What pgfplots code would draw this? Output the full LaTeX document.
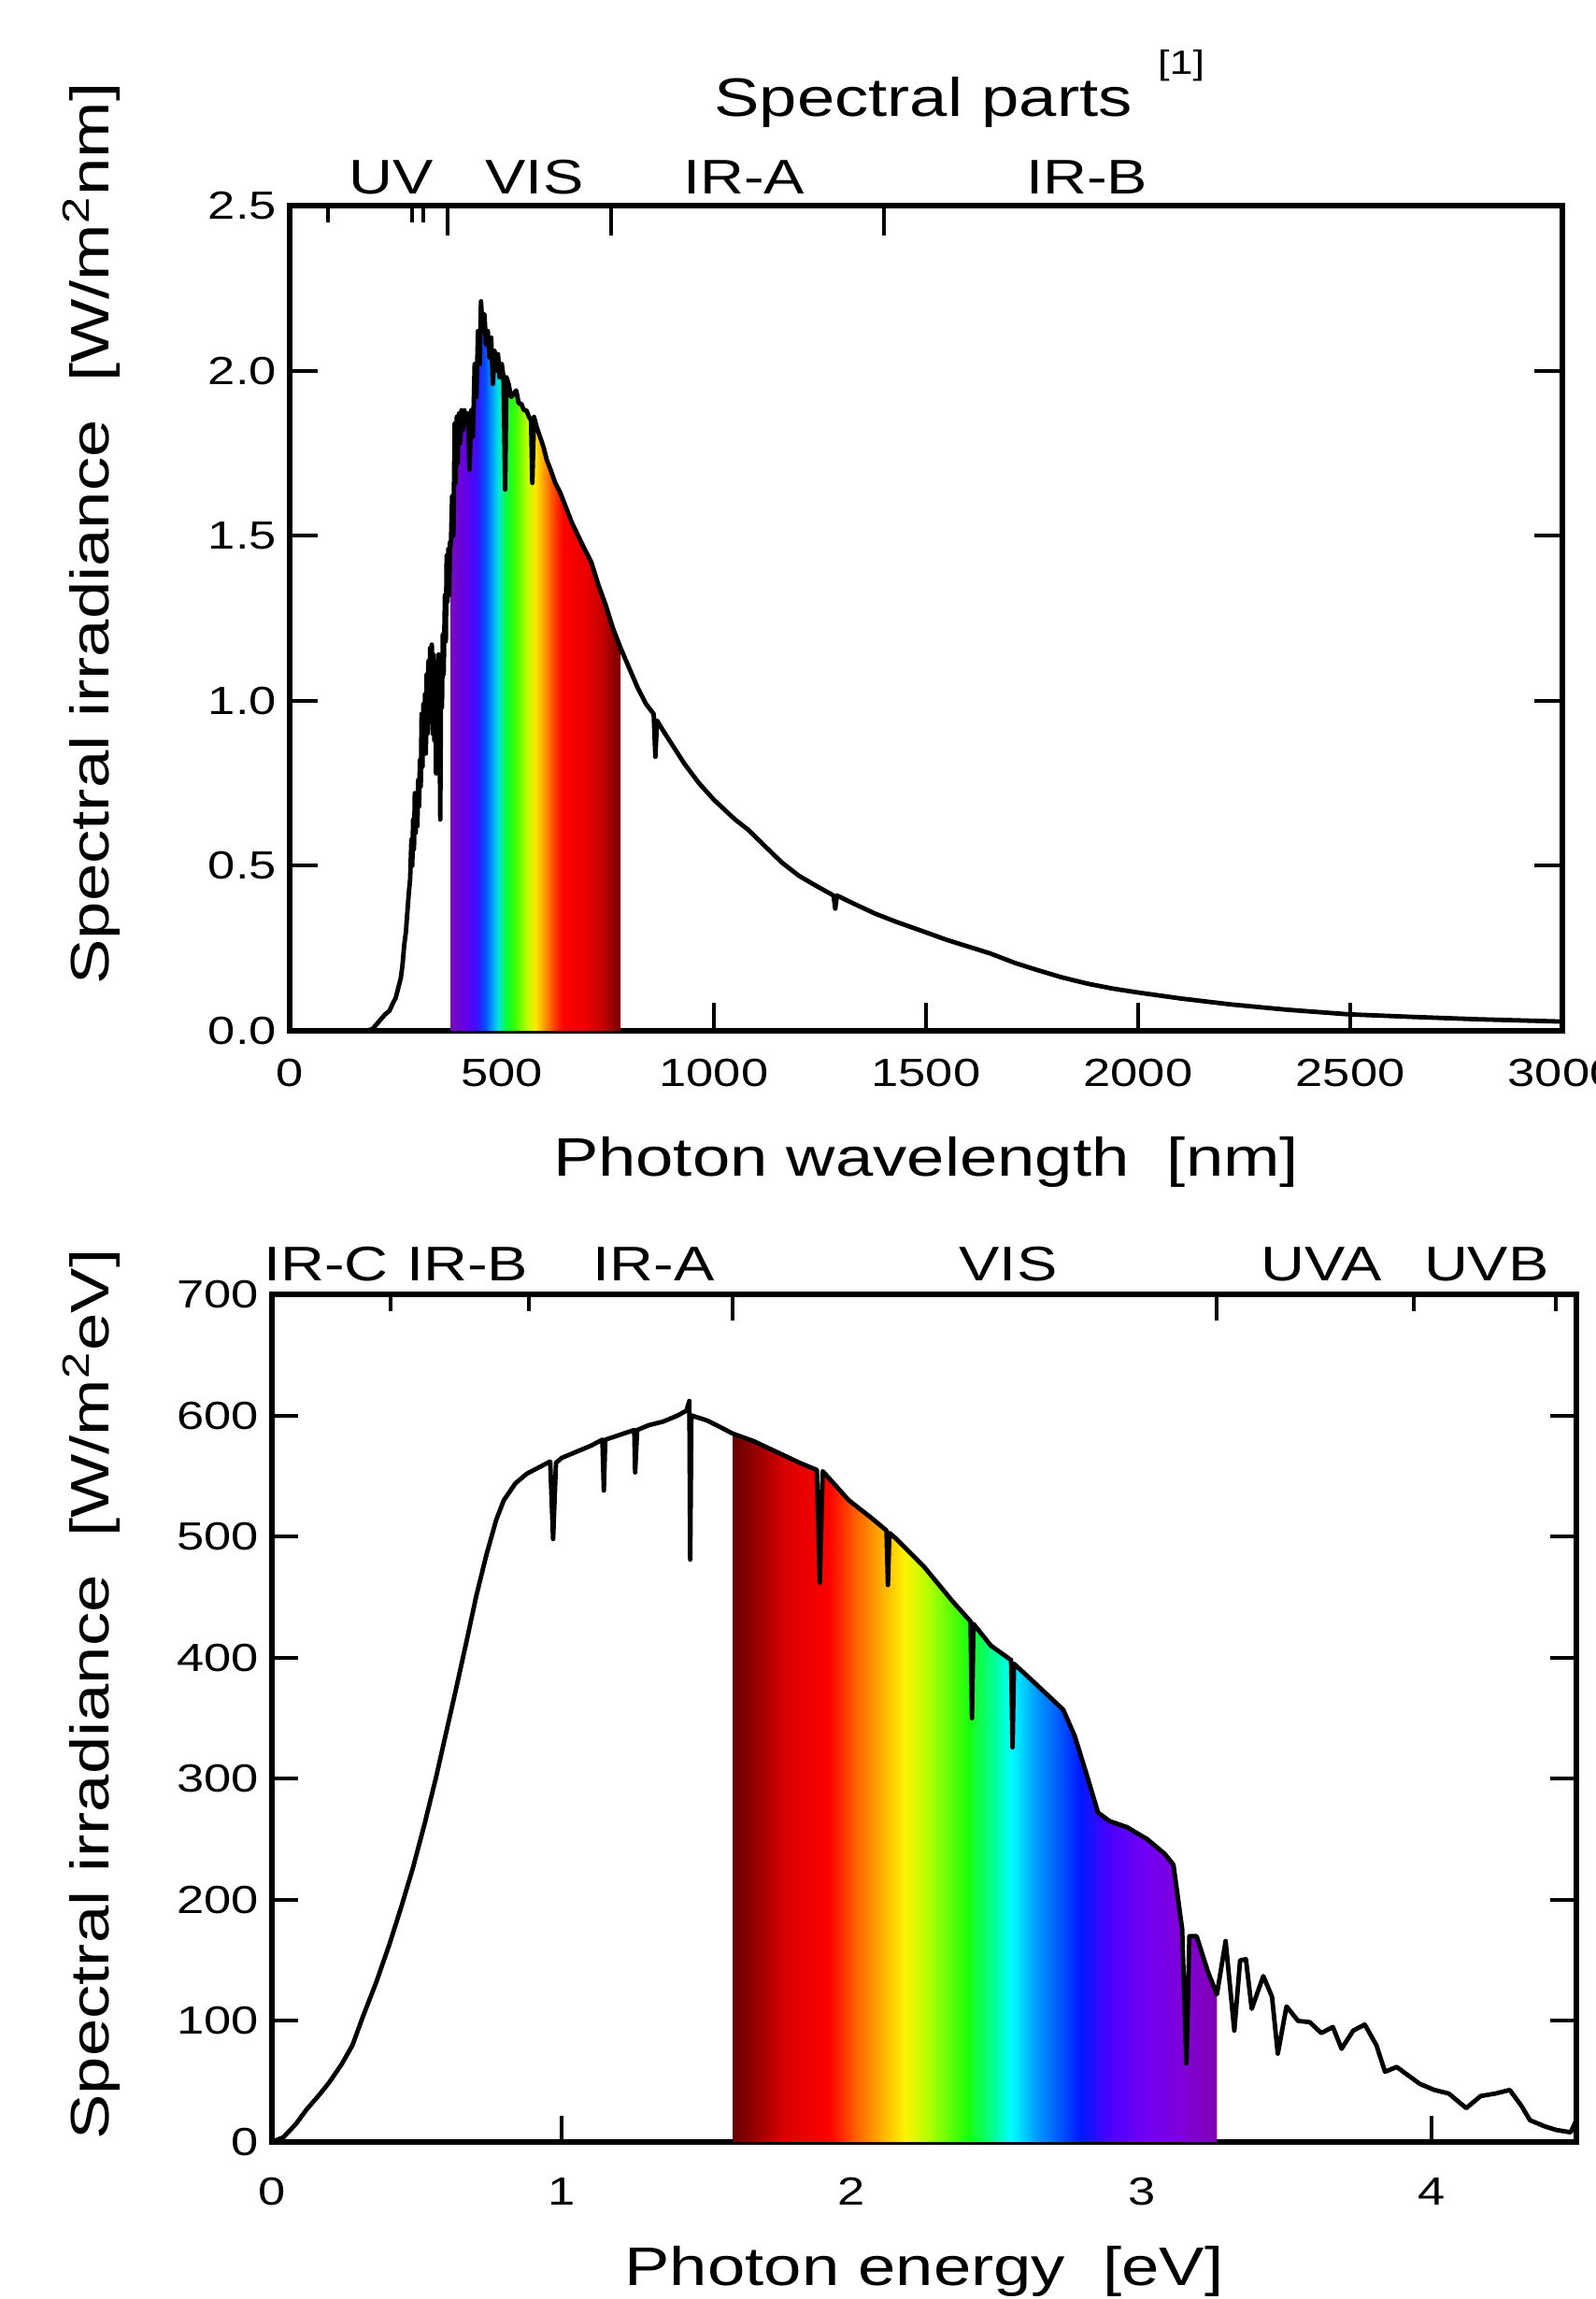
\documentclass[border=0pt]{standalone}
\usepackage{fontspec}
\setmainfont{Liberation Sans}[FakeStretch=1.25]
\usepackage{pgfplots}
\usepackage{pgfplotstable}
\pgfplotsset{compat=1.18}

\newcommand\ticksize{\fontsize{10.5}{12}\selectfont}
\newcommand\labsize{\fontsize{14.5}{17}\selectfont}
\newcommand\partsize{\fontsize{13}{15}\selectfont}

% rainbow for 380..780 nm (violet left, red right)
\pgfdeclarehorizontalshading{rainbownm}{100bp}{%
rgb(0bp)=(0.45,0.05,0.75); rgb(25bp)=(0.45,0.05,0.75);
rgb(29bp)=(0.40,0.00,0.90); rgb(32.5bp)=(0.25,0.05,1.00);
rgb(35bp)=(0.00,0.30,1.00); rgb(37bp)=(0.00,0.60,1.00);
rgb(39bp)=(0.00,0.90,0.85); rgb(41.5bp)=(0.05,1.00,0.20);
rgb(44bp)=(0.25,1.00,0.00); rgb(47.5bp)=(0.75,1.00,0.00);
rgb(50bp)=(1.00,0.90,0.00); rgb(52.5bp)=(1.00,0.60,0.00);
rgb(55.5bp)=(1.00,0.25,0.00); rgb(58bp)=(1.00,0.00,0.00);
rgb(65bp)=(0.92,0.00,0.00); rgb(70bp)=(0.75,0.00,0.00);
rgb(75bp)=(0.45,0.00,0.00); rgb(100bp)=(0.45,0.00,0.00)}

% rainbow for 1.59..3.26 eV (red left, violet right)
\pgfdeclarehorizontalshading{rainbowev}{100bp}{%
rgb(0bp)=(0.40,0.00,0.00); rgb(25bp)=(0.40,0.00,0.00);
rgb(30.4bp)=(0.85,0.00,0.00); rgb(34.9bp)=(1.00,0.00,0.00);
rgb(37.9bp)=(1.00,0.40,0.00); rgb(40.5bp)=(1.00,0.70,0.00);
rgb(42.7bp)=(1.00,0.95,0.00); rgb(44.8bp)=(0.75,1.00,0.00);
rgb(49.3bp)=(0.10,1.00,0.05); rgb(52bp)=(0.00,1.00,0.60);
rgb(53.7bp)=(0.00,1.00,1.00); rgb(56.4bp)=(0.00,0.60,1.00);
rgb(60.9bp)=(0.00,0.10,1.00); rgb(63.9bp)=(0.30,0.00,1.00);
rgb(67.8bp)=(0.45,0.00,0.95); rgb(71.4bp)=(0.50,0.00,0.85);
rgb(75bp)=(0.50,0.00,0.70); rgb(100bp)=(0.50,0.00,0.70)}

% spectral irradiance vs wavelength (nm, W/m^2nm)
\pgfplotstableread{
x y
0 0
180 0
195 0.005
205 0.02
215 0.035
225 0.05
235 0.06
242 0.08
250 0.10
256 0.13
262 0.16
266 0.20
270 0.26
274 0.30
278 0.37
281 0.42
284 0.46
287 0.58
289 0.50
291 0.64
293 0.55
295 0.72
297 0.60
299 0.70
301 0.62
303 0.76
305 0.68
307 0.82
309 0.74
311 0.96
313 0.80
315 0.99
317 0.86
319 1.02
321 0.84
323 1.08
325 0.90
327 1.12
329 0.95
331 1.16
333 0.98
335 1.17
337 0.90
339 1.14
341 0.88
343 1.12
345 0.78
347 1.10
349 0.95
351 1.14
353 1.00
355 0.64
357 1.10
359 0.98
361 1.20
363 1.08
366 1.32
368 1.18
370 1.44
372 1.30
374 1.46
376 1.32
378 1.48
380 1.47
383 1.62
386 1.50
389 1.84
391 1.66
394 1.86
396 1.72
399 1.87
402 1.78
405 1.88
408 1.82
412 1.88
416 1.84
420 1.87
424 1.70
428 1.88
432 1.80
436 2.02
440 1.92
444 2.12
448 2.02
451 2.21
455 2.12
459 2.17
463 2.08
467 2.12
471 2.04
475 2.10
479 1.96
483 2.06
487 2.00
491 2.05
495 1.98
500 2.02
504 1.98
508 1.64
511 1.98
516 1.96
522 1.92
528 1.93
534 1.94
540 1.90
546 1.90
552 1.88
558 1.88
564 1.86
569 1.85
572 1.66
576 1.86
582 1.83
590 1.80
598 1.77
606 1.73
615 1.70
626 1.66
638 1.63
650 1.59
665 1.54
680 1.50
695 1.46
711 1.42
728 1.35
745 1.29
762 1.22
780 1.16
800 1.10
820 1.04
840 0.99
858 0.96
862 0.83
866 0.94
880 0.91
900 0.87
930 0.81
965 0.75
1000 0.70
1050 0.64
1080 0.61
1120 0.56
1160 0.51
1200 0.47
1240 0.44
1282 0.41
1286 0.37
1290 0.41
1330 0.385
1380 0.355
1430 0.33
1496 0.30
1550 0.275
1600 0.255
1650 0.235
1711 0.205
1760 0.185
1820 0.162
1880 0.143
1940 0.128
2000 0.116
2100 0.098
2218 0.080
2350 0.064
2496 0.050
2650 0.042
2800 0.035
3000 0.028
}\nmdata

% spectral irradiance vs photon energy (eV, W/m^2eV)
\pgfplotstableread{
x y
0 0
0.04 4
0.083 15
0.12 27
0.16 38
0.197 49
0.24 64
0.278 80
0.313 103
0.36 132
0.405 163
0.446 194
0.486 226
0.527 263
0.567 302
0.60 337
0.635 374
0.67 412
0.705 451
0.74 485
0.774 514
0.80 530
0.84 544
0.88 552
0.92 557
0.96 562
0.97 498
0.98 561
1.00 565
1.05 570
1.10 575
1.14 580
1.145 538
1.15 580
1.20 584
1.25 588
1.253 553
1.26 588
1.30 592
1.35 595
1.40 600
1.43 604
1.44 612
1.443 481
1.447 600
1.50 596
1.55 590
1.59 585
1.66 579
1.74 570
1.82 561
1.88 555
1.89 462
1.90 554
1.99 530
2.07 515
2.12 505
2.125 460
2.13 503
2.15 499
2.25 475
2.35 446
2.41 430
2.415 350
2.42 428
2.48 410
2.55 398
2.555 326
2.56 395
2.65 375
2.73 357
2.77 335
2.81 304
2.85 272
2.89 265
2.95 260
3.02 250
3.08 238
3.11 229
3.14 176
3.155 65
3.165 170
3.19 170
3.23 140
3.26 122
3.29 166
3.32 92
3.34 150
3.36 151
3.38 110
3.42 137
3.45 120
3.47 73
3.50 112
3.54 100
3.58 99
3.62 90
3.66 95
3.69 77
3.73 92
3.77 97
3.81 80
3.84 58
3.88 62
3.92 55
3.96 48
4.01 43
4.06 40
4.12 28
4.17 38
4.22 40
4.27 43
4.31 30
4.34 18
4.39 13
4.43 10
4.48 8
4.5 18
}\evdata

\pgfplotsset{
  frame/.style={
    scale only axis, anchor=south west,
    tick align=inside,
    axis line style={line width=1.4pt},
    every tick/.style={black, line width=1pt},
    ticklabel style={font=\ticksize},
    /pgf/number format/assume math mode=true,
  },
  parts/.style={
    scale only axis, anchor=south west, clip=false,
    axis x line*=top, axis y line=none,
    x axis line style={draw=none},
    tick align=inside,
    every tick/.style={black, line width=1pt},
    xticklabels={}, extra x tick labels={},
  },
  curve/.style={black, line width=1.2pt, line join=round},
}

\begin{document}
\begin{tikzpicture}

% ---- top: wavelength ----
\begin{axis}[frame,
  at={(77.5pt,-275.75pt)}, width=340.5pt, height=220.75pt,
  xmin=0, xmax=3000, ymin=0, ymax=2.5,
  xtick={0,500,...,3000}, ytick={0,0.5,...,2.5},
  xtick pos=left, ytick pos=both,
  major tick length=7.5pt,
  x tick label style={/pgf/number format/set thousands separator={}, yshift=-4pt},
  y tick label style={/pgf/number format/.cd, fixed, fixed zerofill, precision=1},
]
\addplot[draw=none, shading=rainbownm, restrict x to domain=380:780]
  table {\nmdata} \closedcycle;
\addplot[curve] table {\nmdata};
\end{axis}

\begin{axis}[parts,
  at={(77.5pt,-275.75pt)}, width=340.5pt, height=220.75pt,
  xmin=0, xmax=3000, ymin=0, ymax=2.5,
  xtick={372,757,1400},
  extra x ticks={90,289,315},
  extra x tick style={major tick length=4.5pt},
  major tick length=8pt,
]
\node[anchor=base, font=\partsize, yshift=3pt] at (axis cs:240,2.5) {UV};
\node[anchor=base, font=\partsize, yshift=3pt] at (axis cs:577,2.5) {VIS};
\node[anchor=base, font=\partsize, yshift=3pt] at (axis cs:1071,2.5) {IR-A};
\node[anchor=base, font=\partsize, yshift=3pt] at (axis cs:1879,2.5) {IR-B};
\end{axis}

% ---- bottom: photon energy ----
\begin{axis}[frame,
  at={(72.75pt,-573pt)}, width=349pt, height=226.75pt,
  xmin=0, xmax=4.5, ymin=0, ymax=700,
  xtick={0,1,2,3,4}, ytick={0,100,...,700},
  xtick pos=left, ytick pos=both,
  major tick length=7pt,
  x tick label style={yshift=-6pt},
]
\addplot[draw=none, shading=rainbowev, restrict x to domain=1.59:3.26]
  table {\evdata} \closedcycle;
\addplot[curve] table {\evdata};
\end{axis}

\begin{axis}[parts,
  at={(72.75pt,-573pt)}, width=349pt, height=226.75pt,
  xmin=0, xmax=4.5, ymin=0, ymax=700,
  xtick={1.59,3.26},
  extra x ticks={0.41,0.886,3.94,4.43},
  extra x tick style={major tick length=4.5pt},
  major tick length=7pt,
]
\node[anchor=base, font=\partsize, yshift=3.75pt] at (axis cs:0.187,700) {IR-C};
\node[anchor=base, font=\partsize, yshift=3.75pt] at (axis cs:0.674,700) {IR-B};
\node[anchor=base, font=\partsize, yshift=3.75pt] at (axis cs:1.318,700) {IR-A};
\node[anchor=base, font=\partsize, yshift=3.75pt] at (axis cs:2.54,700) {VIS};
\node[anchor=base, font=\partsize, yshift=3.75pt] at (axis cs:3.62,700) {UVA};
\node[anchor=base, font=\partsize, yshift=3.75pt] at (axis cs:4.19,700) {UVB};
\end{axis}

% titles and axis labels
\node[anchor=base, font=\labsize] at (247pt,-31.25pt) {Spectral parts};
\node[anchor=base, font=\fontsize{9}{10}\selectfont] at (316pt,-20pt) {[1]};
\node[anchor=base, font=\labsize] at (247.75pt,-314.5pt) {Photon wavelength\ \ [nm]};
\node[anchor=base, font=\labsize] at (247.25pt,-611.25pt) {Photon energy\ \ [eV]};
\node[rotate=90, font=\labsize] at (24.5pt,-142.75pt) {Spectral irradiance\ \ [W/m\textsuperscript{2}nm]};
\node[rotate=90, font=\labsize] at (24.5pt,-453.25pt) {Spectral irradiance\ \ [W/m\textsuperscript{2}eV]};

\pgfresetboundingbox
\path[use as bounding box] (0pt,0pt) rectangle (427pt,-615pt);
\end{tikzpicture}
\end{document}
